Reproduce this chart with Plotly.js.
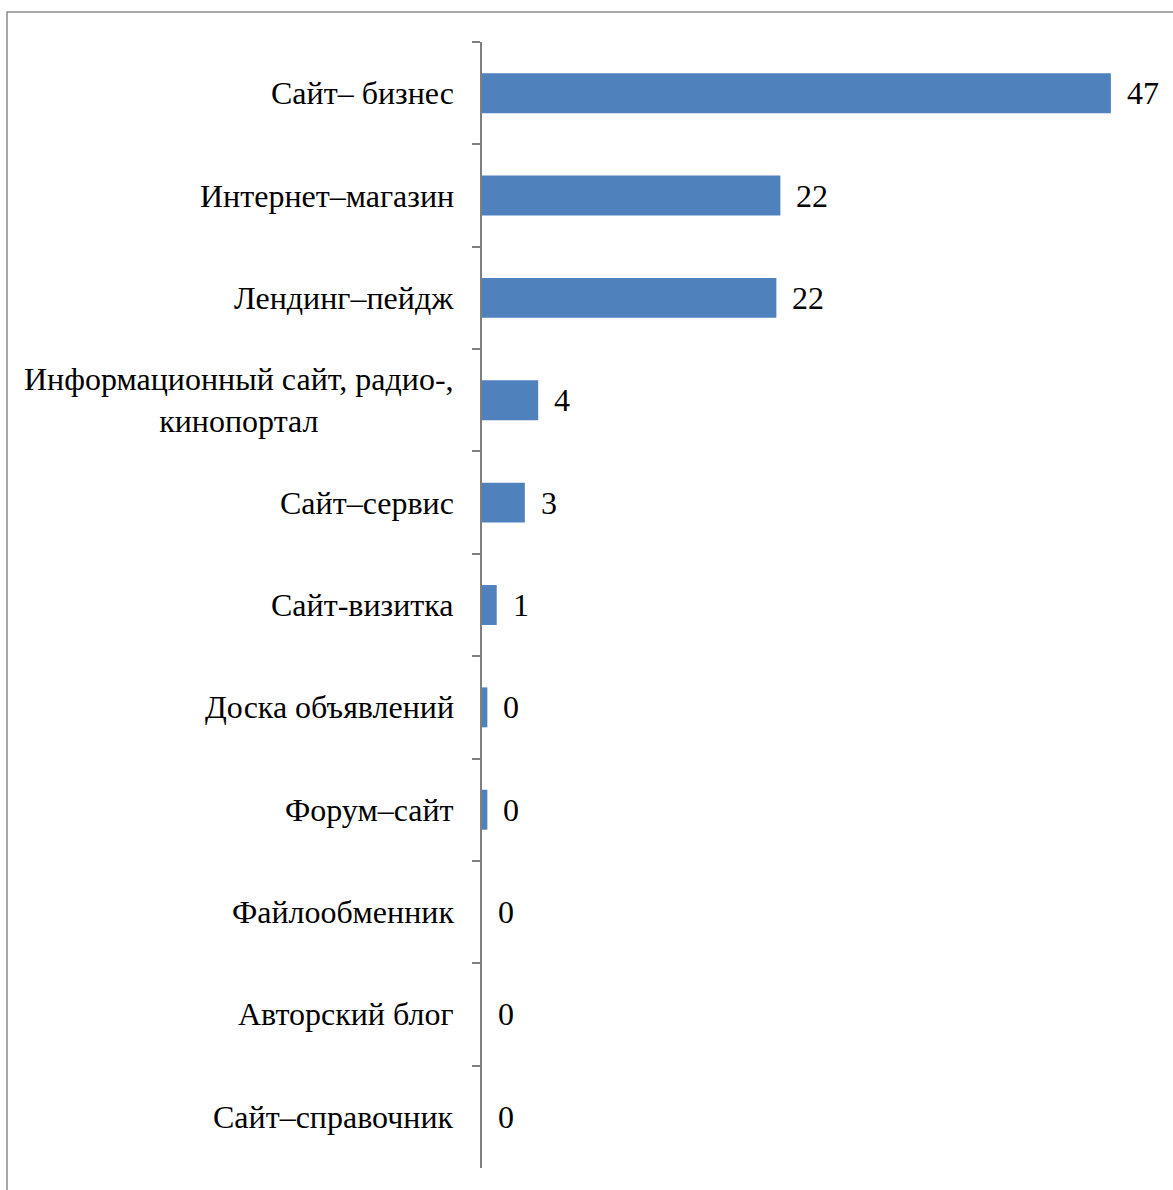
<!DOCTYPE html>
<html><head><meta charset="utf-8">
<script src="https://cdn.plot.ly/plotly-3.0.1.min.js"></script>
<style>html,body{margin:0;padding:0;background:#fff;}</style>
</head><body>
<div id="chart" style="width:1173px;height:1190px;"></div>
<script>
const categories = [
  "Сайт– бизнес",
  "Интернет–магазин",
  "Лендинг–пейдж",
  "Информационный сайт, радио-,<br>кинопортал",
  "Сайт–сервис",
  "Сайт-визитка",
  "Доска объявлений",
  "Форум–сайт",
  "Файлообменник",
  "Авторский блог",
  "Сайт–справочник"
];
const values = [47, 22.3, 22, 4.2, 3.2, 1.1, 0.4, 0.4, 0, 0, 0];
const valueLabels = ["47", "22", "22", "4", "3", "1", "0", "0", "0", "0", "0"];

const fontFamily = "Liberation Serif, Times New Roman, serif";
const fontSize = 32;

const trace = {
  type: "bar",
  orientation: "h",
  x: values,
  y: categories,
  marker: {color: "#4f81bd", line: {width: 0}},
  hoverinfo: "none"
};

const annotations = [];
categories.forEach((c, i) => {
  annotations.push({
    xref: "paper", yref: "y", x: 0, y: c, xanchor: "right", yanchor: "middle",
    xshift: -26, text: c, showarrow: false, align: "center",
    font: {family: fontFamily, size: fontSize, color: "#000"}
  });
  annotations.push({
    xref: "x", yref: "y", x: values[i], y: c, xanchor: "left", yanchor: "middle",
    xshift: 14, text: valueLabels[i], showarrow: false,
    font: {family: fontFamily, size: fontSize, color: "#000"}
  });
});

const L = 482, R = 22, T = 42, B = 22, W = 1173, H = 1190;
const pw = W - L - R, ph = H - T - B;

const layout = {
  width: W, height: H,
  margin: {l: L, r: R, t: T, b: B, pad: 0},
  paper_bgcolor: "#fff", plot_bgcolor: "#fff",
  showlegend: false,
  bargap: 0.61,
  xaxis: {range: [0, 50], visible: false, fixedrange: true},
  yaxis: {
    type: "category", autorange: "reversed",
    showticklabels: false, showline: true, linecolor: "#7f7f7f", linewidth: 2,
    ticks: "outside", tickson: "boundaries", ticklen: 8, tickcolor: "#7f7f7f", tickwidth: 2,
    showgrid: false, zeroline: false, fixedrange: true
  },
  annotations: annotations,
  shapes: [{
    type: "rect", xref: "paper", yref: "paper",
    x0: (7 - L) / pw, x1: (W + 20 - L) / pw,
    y0: -(B + 20) / ph, y1: 1 + (T - 12) / ph,
    line: {color: "#8c8c8c", width: 1.5}, fillcolor: "rgba(0,0,0,0)", layer: "below"
  }]
};

Plotly.newPlot("chart", [trace], layout, {displayModeBar: false, staticPlot: true});
</script>
</body></html>
